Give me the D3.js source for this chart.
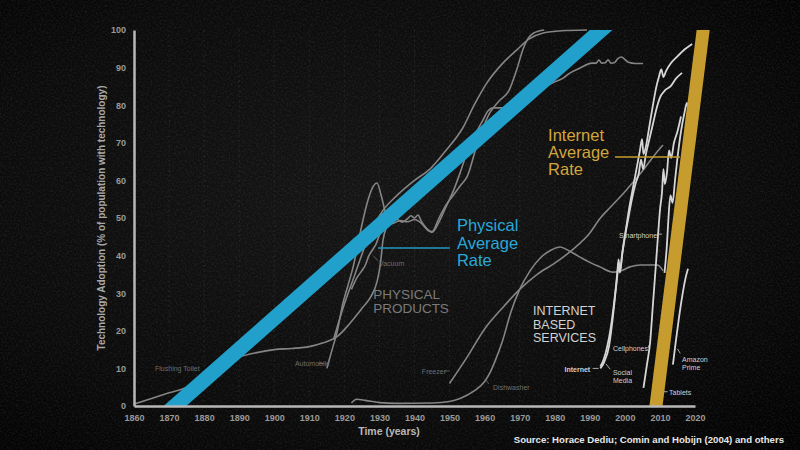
<!DOCTYPE html>
<html>
<head>
<meta charset="utf-8">
<script src="https://cdn.jsdelivr.net/npm/d3@7"></script>
<style>
  body { margin: 0; background: #000; }
  svg { display: block; font-family: "Liberation Sans", Arial, Helvetica, sans-serif; }
</style>
</head>
<body>
<svg id="chart" width="800" height="450"></svg>
<script>
// ---- data (year, % of population) ----
const yearTicks = [1860, 1870, 1880, 1890, 1900, 1910, 1920, 1930, 1940, 1950, 1960, 1970, 1980, 1990, 2000, 2010, 2020];
const valueTicks = [0, 10, 20, 30, 40, 50, 60, 70, 80, 90, 100];
const gridYears = [1870, 1880, 1890, 1900, 1910, 1920, 1930, 1940, 1950, 1960, 1970, 1980, 1990, 2000, 2010];

const flushingToilet = [[1860, 0.5], [1865, 2], [1870, 3.5], [1875, 5], [1880, 8], [1885, 10.8], [1890, 13], [1895, 14.2],
  [1900, 15], [1905, 15.3], [1910, 15.8], [1914, 16.8], [1918, 18.5], [1921.6, 22], [1925.3, 26.3], [1927.5, 29],
  [1929.3, 33], [1930.3, 38], [1931, 44], [1932, 47.5], [1933, 48.8]];

const automobile = [[1915, 10], [1916.5, 15], [1918, 20], [1919.5, 27], [1921, 32], [1922.5, 37], [1924.5, 46], [1926.5, 54],
  [1928, 58], [1929.3, 59.3], [1930.5, 56], [1932, 50.5], [1933, 49], [1935, 49.6], [1936.5, 48.9], [1938, 49.8],
  [1939, 50.6], [1940, 50], [1941, 50.8], [1942, 49], [1943.5, 47.2], [1945, 46.2], [1947, 49], [1949, 53], [1951, 57],
  [1953, 62], [1955, 67.5], [1956.5, 71], [1958, 73.5], [1959.5, 76], [1961, 78.5], [1962.4, 79.3], [1965.2, 79.3],
  [1970, 82], [1975, 84.5], [1979.5, 86], [1982.4, 87.2], [1984.4, 88.6], [1987.2, 89.9], [1990.6, 91.2], [1991.8, 91.2],
  [1992.6, 92], [1993.4, 91.2], [1994.4, 91.3], [1995.2, 92.1], [1996, 91.2], [1997, 91.3], [1998, 92.4], [1999, 92.8],
  [2000, 92.2], [2001, 91.4], [2003, 91.1], [2005.2, 91.1]];

const vacuum = [[1922, 31], [1923.5, 34], [1925, 36], [1926, 37.5], [1927, 40], [1928, 41.5], [1929, 43], [1930, 45.5],
  [1931, 47], [1932, 48], [1934, 48.6], [1936, 49.3], [1938, 49], [1940, 49.6], [1942, 48.6], [1944, 46.6], [1945, 46.4],
  [1947, 50], [1949, 53.5], [1951, 56], [1953, 58.5], [1955, 61], [1958, 70], [1961.5, 78], [1964, 81], [1967, 84],
  [1969, 89], [1971, 95], [1972.2, 97.5], [1974, 99.2], [1977, 100]];

const electricity = [[1917, 18], [1919.6, 26], [1923, 35], [1926.5, 44], [1929, 49], [1931, 52], [1935, 56], [1940, 60],
  [1944.4, 63], [1949, 68], [1953.8, 74], [1957, 80], [1960.7, 86], [1965, 91], [1969.2, 94.7], [1972.5, 97.5],
  [1976.7, 99.2], [1982, 99.8], [1989.2, 100]];

const freezer = [[1950, 6], [1955, 13], [1960, 20.5], [1965, 26], [1970, 31], [1975, 35], [1980, 38], [1985, 41.5],
  [1990, 46], [1993, 50], [1996, 53], [2000, 57], [2005, 62.5], [2010, 68.5], [2010.9, 69.4]];

const dishwasher = [[1922, 0.8], [1923.5, 1.8], [1926, 1.5], [1930, 0.9], [1935, 0.7], [1945, 0.8], [1950, 1.2],
  [1953, 2], [1957, 4], [1960, 6.5], [1961.5, 8.8], [1963, 12], [1965, 17], [1967.5, 25], [1970, 31], [1973, 36],
  [1976, 39.5], [1979, 41.5], [1981.5, 42.3], [1984, 41.3], [1987.2, 39.6], [1990, 38.2], [1992.9, 37], [1996.6, 35.6],
  [1998, 35.7], [2001.5, 37], [2004.3, 37.5], [2009.2, 37.5], [2010.9, 36]];

const internet = [[1993, 10.5], [1994, 12.5], [1995, 16], [1996, 21], [1997, 28], [1997.8, 35], [1998.2, 39],
  [1998.6, 36], [1999.3, 41], [2000.3, 47], [2001.3, 53], [2002.3, 58], [2003.3, 63], [2004.3, 68], [2004.9, 71],
  [2005.3, 67], [2006, 69], [2007, 74.5], [2008, 80], [2009, 85], [2009.7, 87.5], [2010.4, 89.5], [2011, 87.5],
  [2011.7, 89], [2013, 91], [2015, 93], [2017, 94.8], [2019.2, 96.3]];

const cellphones = [[1993, 10], [1994, 11.5], [1995.5, 16], [1996.5, 23], [1997.3, 30], [1997.8, 34.3], [1998.2, 38],
  [1998.6, 35.5], [1999.2, 40], [2000, 45], [2001, 50], [2002, 55], [2003, 59], [2004, 62], [2004.6, 65.5],
  [2005.2, 63], [2006, 67], [2007, 71], [2008, 75], [2009, 79], [2010, 82], [2011.5, 84], [2013, 85], [2014.5, 87],
  [2016.3, 88.6]];

const socialMedia = [[2005.3, 4.8], [2006.3, 11], [2007.2, 17], [2008, 27], [2008.8, 37], [2009.5, 46], [2010, 52],
  [2010.6, 57], [2011, 63], [2011.4, 59], [2012, 62], [2012.6, 68], [2013.2, 66], [2014, 70], [2015, 73], [2016, 77]];

const smartphone = [[2011.3, 35.4], [2012, 43], [2012.4, 49.5], [2013, 56], [2013.6, 54], [2014.3, 60], [2015, 66],
  [2016, 73], [2017, 78], [2017.7, 80.6], [2018, 79.5]];

const tablets = [[2010, 3], [2011, 8], [2012, 18], [2013, 30], [2014, 40], [2015, 46], [2016, 51], [2017, 53]];

const amazonPrime = [[2013.7, 11], [2014.5, 17], [2015.5, 24], [2016.5, 30], [2017.3, 34], [2018, 36.5]];

// average-rate trend bands, end points beyond the plot (clipped)
const physicalRate = [[1865.6, -5], [1999.3, 105]];
const internetRate = [[2008.2, -5], [2023.0, 105]];

const physicalSeries = [flushingToilet, automobile, vacuum, electricity, freezer, dishwasher];
const internetSeries = [internet, cellphones, socialMedia, smartphone, tablets, amazonPrime];

// ---- chart ----
const svg = d3.select("#chart");
const W = 800, H = 450;
const x = d3.scaleLinear().domain([1860, 2020]).range([134, 695]);
const y = d3.scaleLinear().domain([0, 100]).range([406, 30]);

const defs = svg.append("defs");
const bg = defs.append("radialGradient").attr("id", "bg")
  .attr("cx", "45%").attr("cy", "45%").attr("r", "75%");
bg.append("stop").attr("offset", "0%").attr("stop-color", "#151515");
bg.append("stop").attr("offset", "65%").attr("stop-color", "#0b0b0b");
bg.append("stop").attr("offset", "100%").attr("stop-color", "#020202");

const grain = defs.append("filter").attr("id", "grain")
  .attr("x", 0).attr("y", 0).attr("width", "100%").attr("height", "100%");
grain.append("feTurbulence").attr("type", "fractalNoise")
  .attr("baseFrequency", 0.55).attr("numOctaves", 3).attr("seed", 7);
grain.append("feColorMatrix").attr("type", "matrix")
  .attr("values", "0 0 0 0 1  0 0 0 0 1  0 0 0 0 1  0.5 0 0 0 -0.2");

defs.append("clipPath").attr("id", "plot")
  .append("rect").attr("x", x(1860)).attr("y", y(100))
  .attr("width", W - x(1860)).attr("height", y(0) - y(100));

svg.append("rect").attr("width", W).attr("height", H).attr("fill", "url(#bg)");
svg.append("rect").attr("width", W).attr("height", H).attr("filter", "url(#grain)").attr("opacity", 0.3);

// faint decade grid
svg.append("g").selectAll("line").data(gridYears).join("line")
  .attr("x1", d => x(d)).attr("x2", d => x(d))
  .attr("y1", y(100)).attr("y2", y(0))
  .attr("stroke", "#ffffff").attr("stroke-opacity", 0.07)
  .attr("stroke-dasharray", "2,3");

const line = d3.line().x(d => x(d[0])).y(d => y(d[1])).curve(d3.curveMonotoneX);

svg.append("g").selectAll("path").data(physicalSeries).join("path")
  .attr("d", line).attr("fill", "none")
  .attr("stroke", "#858585").attr("stroke-width", 1.6).attr("stroke-linejoin", "round");

svg.append("g").selectAll("path").data(internetSeries).join("path")
  .attr("d", line).attr("fill", "none")
  .attr("stroke", "#d6d6d6").attr("stroke-width", 1.8).attr("stroke-linejoin", "round");

// trend bands
const straight = d3.line().x(d => x(d[0])).y(d => y(d[1]));
const bands = svg.append("g").attr("clip-path", "url(#plot)");
bands.append("path").attr("d", straight(physicalRate))
  .attr("fill", "none").attr("stroke", "#20a0ca").attr("stroke-width", 15);
bands.append("path").attr("d", straight(internetRate))
  .attr("fill", "none").attr("stroke", "#c69c2e").attr("stroke-width", 13);

// axes
const yAxis = svg.append("g").attr("transform", `translate(${x(1860)},0)`)
  .call(d3.axisLeft(y).tickValues(valueTicks).tickSize(0).tickPadding(8));
const xAxis = svg.append("g").attr("transform", `translate(0,${y(0)})`)
  .call(d3.axisBottom(x).tickValues(yearTicks).tickFormat(d3.format("d")).tickSize(0).tickPadding(9));
[yAxis, xAxis].forEach(a => {
  a.select(".domain").attr("stroke", "#b8b8b8").attr("stroke-width", 2.5);
  a.selectAll("text").attr("fill", "#9a9a9a").style("font-size", "9px").style("font-weight", "600");
});

svg.append("text")
  .attr("transform", `translate(105,${(y(0) + y(100)) / 2}) rotate(-90)`)
  .attr("text-anchor", "middle").attr("fill", "#a8a8a8")
  .style("font-size", "10px").style("font-weight", "700")
  .text("Technology Adoption (% of population with technology)");

svg.append("text").attr("x", 389).attr("y", 435).attr("text-anchor", "middle")
  .attr("fill", "#b8b8b8").style("font-size", "10.5px").style("font-weight", "700")
  .text("Time (years)");

svg.append("text").attr("x", 784).attr("y", 443).attr("text-anchor", "end")
  .attr("fill", "#e6e6e6").style("font-size", "9.6px").style("font-weight", "700")
  .text("Source: Horace Dediu; Comin and Hobijn (2004) and others");

// labels
function block(year, value, lines, size, lead, fill, weight) {
  const t = svg.append("text").attr("x", x(year)).attr("y", y(value))
    .attr("fill", fill).style("font-size", size + "px").style("font-weight", weight || "400");
  lines.forEach((s, i) => t.append("tspan").attr("x", x(year)).attr("dy", i ? lead : 0).text(s));
  return t;
}
function leader(y1, v1, y2, v2, stroke, w) {
  svg.append("line").attr("x1", x(y1)).attr("y1", y(v1)).attr("x2", x(y2)).attr("y2", y(v2))
    .attr("stroke", stroke).attr("stroke-width", w || 0.8);
}

block(1952.1, 46.5, ["Physical", "Average", "Rate"], 16.5, 17.5, "#2aa8d8");
leader(1929.6, 42, 1950.1, 42, "#2399c2", 1.5);
block(1978.1, 70.5, ["Internet", "Average", "Rate"], 16.5, 17, "#d2a63c");
leader(1997.2, 66.2, 2015.7, 66.2, "#c69c2e", 1.5);

block(1928.2, 28.4, ["PHYSICAL", "PRODUCTS"], 13.5, 13.5, "#7b7b7b");
block(1973.8, 24.2, ["INTERNET", "BASED", "SERVICES"], 12.5, 13.5, "#d2d2d2");

const grey = "#6e6e6e", white = "#cfcfcf";
block(1866, 9.3, ["Flushing Toilet"], 7, 0, grey);
block(1915.9, 10.6, ["Automobile"], 7, 0, grey).attr("text-anchor", "end");
leader(1912.6, 11.3, 1914.3, 11.3, grey);
block(1929.9, 37.2, ["Vacuum"], 7, 0, grey);
leader(1929.6, 38.6, 1928.2, 40, grey);
block(1942.1, 8.5, ["Freezer"], 7, 0, grey);
leader(1948.7, 9.3, 1949.9, 9.3, grey);
block(1962.4, 4.3, ["Dishwasher"], 7, 0, grey);
leader(1961.2, 5.9, 1960.1, 7.2, grey);

block(1990.1, 9.0, ["Internet"], 7, 0, white).attr("text-anchor", "end").style("font-weight", "700");
leader(1990.8, 10, 1992.5, 10, white);
block(1996.6, 8.2, ["Social", "Media"], 7, 8, white);
leader(1995.8, 9.8, 1994.6, 11.2, white);
block(1996.6, 14.6, ["Cellphones"], 7, 0, white);
leader(2006.6, 15.5, 2007.3, 16.8, white);
block(1998.3, 44.7, ["Smartphone"], 7, 0, white);
leader(2009.3, 45.7, 2010.6, 45.7, white);
block(2016.3, 11.7, ["Amazon", "Prime"], 7, 8, white);
leader(2015.8, 14, 2015, 15.2, white);
block(2012.6, 3, ["Tablets"], 7, 0, white);
leader(2011.1, 3.8, 2012.2, 3.8, white);
</script>
</body>
</html>
